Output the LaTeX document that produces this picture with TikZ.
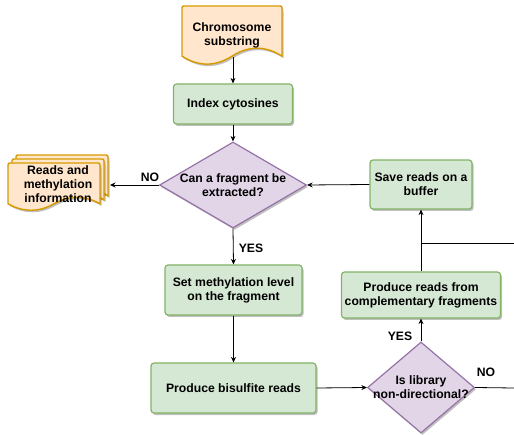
\documentclass[tikz,border=0pt]{standalone}
\usepackage{fontspec}
\setmainfont{Liberation Sans}
\usetikzlibrary{arrows.meta,shapes.geometric,shadows}
\definecolor{gfill}{HTML}{D5E8D4}
\definecolor{gdraw}{HTML}{82B366}
\definecolor{pfill}{HTML}{E1D5E7}
\definecolor{pdraw}{HTML}{9673A6}
\definecolor{ofill}{HTML}{FFE6CC}
\definecolor{odraw}{HTML}{D79B00}
\newcommand\mydocshape[5]{% style, x, y, w, h
  \draw[#1] ({#2},{#3+#5/2}) -- ({#2},{#3+4}) .. controls ({#2},{#3}) .. ({#2+4},{#3})
    -- ({#2+#4-4},{#3}) .. controls ({#2+#4},{#3}) .. ({#2+#4},{#3+4})
    -- ({#2+#4},{#3+0.85*#5})
    .. controls ({#2+#4-#4/6},{#3+0.67*#5}) and ({#2+#4/2+#4/6},{#3+0.67*#5}) .. ({#2+#4/2},{#3+0.85*#5})
    .. controls ({#2+#4/2-#4/6},{#3+1.03*#5}) and ({#2+#4/6},{#3+1.03*#5}) .. ({#2},{#3+0.85*#5})
    -- cycle;}
\tikzset{
  shad/.style={drop shadow={shadow xshift=1.5pt, shadow yshift=-2pt, opacity=0.25, fill=black}},
  box/.style={draw=gdraw, fill=gfill, line width=1.2pt, rounded corners=3pt, shad, align=center, inner sep=2pt},
  dia/.style={diamond, draw=pdraw, fill=pfill, line width=1.2pt, shad, inner sep=0pt},
  doc/.style={draw=odraw, fill=ofill, line width=1.4pt, shad},
  txt/.style={align=center, inner sep=0pt},
  lbl/.style={inner sep=0pt},
  arr/.style={-{Stealth[length=5.5pt,width=5pt]}, line width=0.8pt},
  ln/.style={line width=0.8pt},
}
\begin{document}
\begin{tikzpicture}[x=1pt,y=-1pt,font=\bfseries\fontsize{12.2}{14}\selectfont]
\useasboundingbox (0,0) rectangle (514,435);
% chromosome document
\mydocshape{doc}{182}{6}{100}{59}
\node[txt] (chr) at (232,35) {Chromosome\\substring};
\coordinate (chrb) at (233,57);
% reads multi-document
\mydocshape{doc}{16}{155}{92}{48}
\mydocshape{doc}{12}{159}{92}{48}
\mydocshape{doc}{8}{163}{92}{48}
\node[txt] (reads) at (58,184) {Reads and\\methylation\\information};
\coordinate (readsE) at (110,185);
% boxes
\node[box, minimum width=119, minimum height=40] (idx) at (233,104) {Index cytosines};
\node[dia, minimum width=147, minimum height=86] (d1) at (233,185) {};
\node[txt] (d1t) at (233,185) {Can a fragment be\\extracted?};
\node[box, minimum width=137, minimum height=50] (setm) at (233.5,290) {Set methylation level\\on the fragment};
\node[box, minimum width=165, minimum height=50] (bis) at (233.5,388) {Produce bisulfite reads};
\node[box, minimum width=102, minimum height=49] (save) at (421,184.5) {Save reads on a\\buffer};
\node[box, minimum width=159, minimum height=46] (comp) at (421,295) {Produce reads from\\complementary fragments};
\node[dia, minimum width=107, minimum height=91] (d2) at (421,387.5) {};
\node[txt] (d2t) at (421,387.5) {Is library\\non-directional?};
% labels
\node[lbl] (no1) at (150,177) {NO};
\node[lbl] (yes1) at (251,248) {YES};
\node[lbl] (yes2) at (400,336) {YES};
\node[lbl] (no2) at (486,372) {NO};
% connectors
\coordinate (rightA) at (514,388);
\coordinate (rightB) at (514,243);
\coordinate (join) at (421,243);
\draw[arr] (chrb) -- (idx.north);
\draw[arr] (idx.south) -- (d1.north);
\draw[arr] (d1.west) -- (readsE);
\draw[arr] (save.west) -- (d1.east);
\draw[arr] (d1.south) -- (setm.north);
\draw[arr] (setm.south) -- (bis.north);
\draw[arr] (bis.east) -- (d2.west);
\draw[arr] (d2.north) -- (comp.south);
\draw[arr] (comp.north) -- (save.south);
\draw[ln] (d2.east) -- (rightA);
\draw[ln] (rightB) -- (join);
\end{tikzpicture}
\end{document}
